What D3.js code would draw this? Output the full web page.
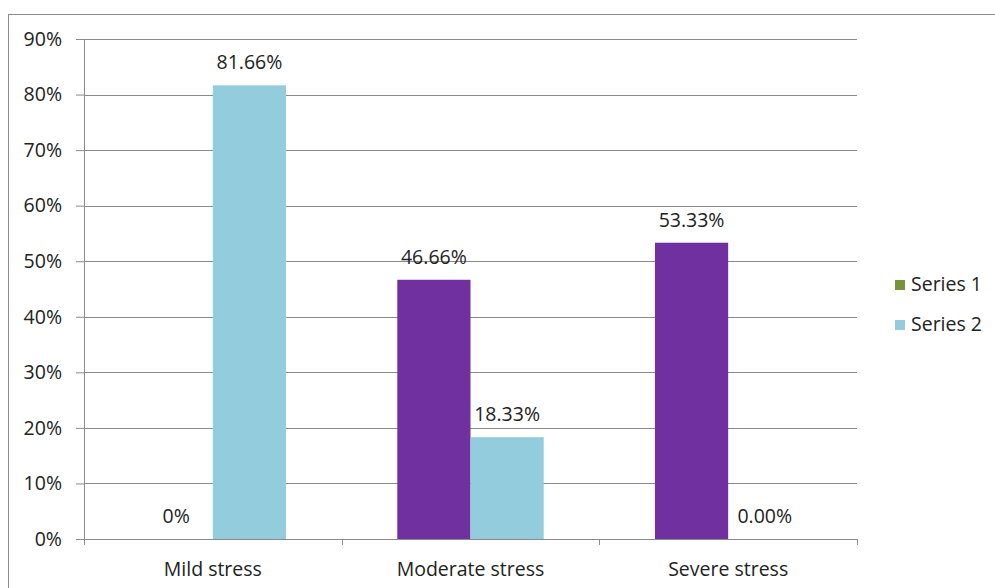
<!DOCTYPE html>
<html>
<head>
<script src="https://d3js.org/d3.v7.min.js"></script>
<style>
  body { margin: 0; background: #fff; }
  text { font-family: "Open Sans", "DejaVu Sans", sans-serif; fill: #222; }
</style>
</head>
<body>
<div id="chart"></div>
<script>
// Data
var categories = ["Mild stress", "Moderate stress", "Severe stress"];
var seriesNames = ["Series 1", "Series 2"];
var series1 = [0, 46.66, 53.33];
var series2 = [81.66, 18.33, 0];
var series1Labels = ["0%", "46.66%", "53.33%"];
var series2Labels = ["81.66%", "18.33%", "0.00%"];
var yTicks = [0, 10, 20, 30, 40, 50, 60, 70, 80, 90];

var width = 995, height = 588;
var margin = {top: 39, left: 84, right: 138, bottom: 49};
var plotW = width - margin.left - margin.right;
var plotH = height - margin.top - margin.bottom;
var fontSize = "19.5px";

var barColors = ["#7030A0", "#93CDDD"];
var legendColors = ["#77933C", "#93CDDD"];

var svg = d3.select("#chart").append("svg")
    .attr("width", width)
    .attr("height", height);

// outer frame (right and bottom edges fall outside the picture)
svg.append("rect")
    .attr("x", 8.5).attr("y", 14.5)
    .attr("width", width + 10).attr("height", height)
    .attr("fill", "none")
    .attr("stroke", "#8c8c8c")
    .attr("stroke-width", 1);

var g = svg.append("g")
    .attr("transform", "translate(" + margin.left + "," + margin.top + ")");

var y = d3.scaleLinear().domain([0, 90]).range([plotH, 0]);
var x0 = d3.scaleBand().domain(categories).range([0, plotW]).paddingInner(0).paddingOuter(0);
var x1 = d3.scaleBand().domain(seriesNames).range([0, x0.bandwidth()]).paddingInner(0).paddingOuter(0.76);

// gridlines
g.append("g").selectAll("line")
    .data(yTicks.filter(d => d > 0))
    .enter().append("line")
    .attr("x1", 0).attr("x2", plotW)
    .attr("y1", d => Math.round(y(d)) + 0.5)
    .attr("y2", d => Math.round(y(d)) + 0.5)
    .attr("stroke", "#8a8a8a");

// y axis
var yAxis = g.append("g")
    .call(d3.axisLeft(y).tickValues(yTicks).tickFormat(d => d + "%").tickSize(8).tickPadding(14));
yAxis.select(".domain").remove();
yAxis.selectAll(".tick line").attr("stroke", "#8a8a8a");
yAxis.selectAll("text").style("font-size", fontSize).attr("fill", "#222");
g.append("line")
    .attr("x1", 0.5).attr("x2", 0.5)
    .attr("y1", 0).attr("y2", plotH + 6)
    .attr("stroke", "#8a8a8a");

// bars
var data = categories.map((c, i) => ({cat: c, values: [
    {name: seriesNames[0], v: series1[i], label: series1Labels[i], color: barColors[0]},
    {name: seriesNames[1], v: series2[i], label: series2Labels[i], color: barColors[1]}
]}));

var groups = g.selectAll(".cat")
    .data(data)
    .enter().append("g")
    .attr("class", "cat")
    .attr("transform", d => "translate(" + x0(d.cat) + ",0)");

groups.selectAll("rect")
    .data(d => d.values)
    .enter().append("rect")
    .attr("x", d => x1(d.name))
    .attr("y", d => y(d.v))
    .attr("width", x1.bandwidth())
    .attr("height", d => plotH - y(d.v))
    .attr("fill", d => d.color);

groups.selectAll(".lbl")
    .data(d => d.values)
    .enter().append("text")
    .attr("class", "lbl")
    .attr("x", d => x1(d.name) + x1.bandwidth() / 2)
    .attr("y", d => y(d.v) - 16)
    .attr("text-anchor", "middle")
    .style("font-size", fontSize)
    .text(d => d.label);

// x axis
var xAxis = g.append("g")
    .attr("transform", "translate(0," + plotH + ")");
xAxis.append("line")
    .attr("x1", 0).attr("x2", plotW)
    .attr("y1", 0.5).attr("y2", 0.5)
    .attr("stroke", "#8a8a8a");
xAxis.selectAll(".xt")
    .data(d3.range(categories.length + 1))
    .enter().append("line")
    .attr("x1", i => Math.round(i * x0.step()) + 0.5)
    .attr("x2", i => Math.round(i * x0.step()) + 0.5)
    .attr("y1", 0).attr("y2", 6)
    .attr("stroke", "#8a8a8a");
xAxis.selectAll(".xl")
    .data(categories)
    .enter().append("text")
    .attr("x", d => x0(d) + x0.bandwidth() / 2)
    .attr("y", 37)
    .attr("text-anchor", "middle")
    .style("font-size", fontSize)
    .text(d => d);

// legend
var legend = svg.append("g")
    .attr("transform", "translate(895,280)");
var li = legend.selectAll("g")
    .data(seriesNames)
    .enter().append("g")
    .attr("transform", (d, i) => "translate(0," + (i * 40) + ")");
li.append("rect")
    .attr("width", 10).attr("height", 10)
    .attr("fill", (d, i) => legendColors[i]);
li.append("text")
    .attr("x", 16).attr("y", 11)
    .style("font-size", fontSize)
    .text(d => d);
</script>
</body>
</html>
